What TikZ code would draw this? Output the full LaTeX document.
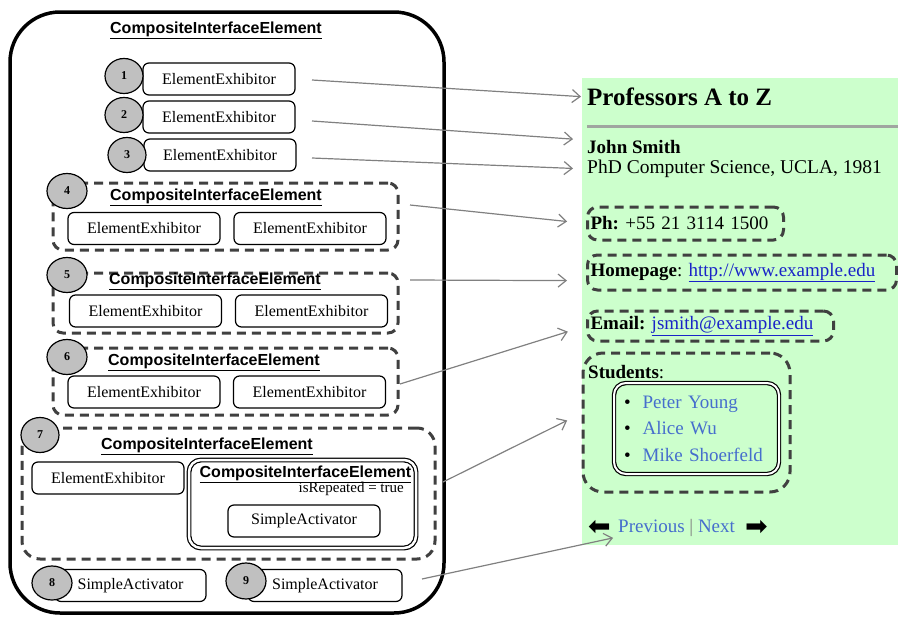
\documentclass[tikz,border=0pt]{standalone}
\usepackage{fontspec}
\setmainfont{Liberation Serif}
\setsansfont{Liberation Sans}
\newfontfamily\arrowfont{DejaVu Sans}
\usetikzlibrary{shapes.geometric,arrows.meta}
\definecolor{numgray}{RGB}{192,192,192}
\definecolor{dashgray}{RGB}{64,64,64}
\definecolor{pagegreen}{RGB}{204,255,204}
\definecolor{rulegray}{RGB}{160,165,160}
\definecolor{linkblue}{RGB}{25,35,200}
\definecolor{stublue}{RGB}{70,110,205}
\definecolor{wiregray}{RGB}{128,128,128}
\begin{document}
\frenchspacing
\begin{tikzpicture}[x=1pt,y=-1pt,
  exhib/.style={draw,rounded corners=6pt,line width=1.2pt,minimum width=152pt,minimum height=32pt,inner sep=0pt,font=\fontsize{16}{18}\selectfont},
  num/.style={draw,ellipse,fill=numgray,line width=1.2pt,minimum width=38pt,minimum height=35pt,inner sep=0pt,font=\fontsize{12}{14}\selectfont\bfseries},
  cie/.style={draw=dashgray,line width=3pt,dash pattern=on 9pt off 6pt,rounded corners=10pt,inner sep=0pt},
  ciename/.style={inner sep=0pt,font=\fontsize{16}{18}\selectfont\sffamily\bfseries},
  web/.style={anchor=west,inner sep=0pt,font=\fontsize{19}{22}\selectfont},
  navarrow/.style={web,font=\fontsize{27}{29}\selectfont\arrowfont},
  wire/.style={draw=wiregray,line width=1.2pt,-{Straight Barb[length=8pt,width=13pt]}}]
 	  \useasboundingbox (0,0) rectangle (898,619);
 	  \fill [pagegreen] (582,78) rectangle (898,545);
 	  \node (main) [draw,line width=3.5pt,rounded corners=50pt,minimum width=434pt,minimum height=601pt] at (227,312.5) {};
 	  \node (title) [ciename] at (216,30) {\underline{CompositeInterfaceElement}};
 	  \node (ee1) [exhib] at (219,79) {ElementExhibitor};
 	  \node (n1) [num] at (124,76) {1};
 	  \node (ee2) [exhib] at (219,117) {ElementExhibitor};
 	  \node (n2) [num] at (124,115) {2};
 	  \node (ee3) [exhib] at (220,155) {ElementExhibitor};
 	  \node (n3) [num] at (127,155) {3};
 	  \node (cie4) [cie,minimum width=345pt,minimum height=67pt] at (225.5,216.5) {};
 	  \node (n4) [num,minimum width=40pt] at (67,191) {4};
 	  \node (t4) [ciename] at (216,197) {\underline{CompositeInterfaceElement}};
 	  \node (ee4a) [exhib] at (144,228.5) {ElementExhibitor};
 	  \node (ee4b) [exhib] at (310,228.5) {ElementExhibitor};
 	  \node (cie5) [cie,minimum width=345pt,minimum height=60pt] at (225.5,303) {};
 	  \node (n5) [num,minimum width=40pt] at (67,275) {5};
 	  \node (t5) [ciename] at (215,281) {\underline{CompositeInterfaceElement}};
 	  \node (ee5a) [exhib] at (145.5,311) {ElementExhibitor};
 	  \node (ee5b) [exhib] at (311.5,311) {ElementExhibitor};
 	  \node (cie6) [cie,minimum width=345pt,minimum height=67pt] at (225.5,381.5) {};
 	  \node (n6) [num,minimum width=40pt] at (67,357) {6};
 	  \node (t6) [ciename] at (214,362) {\underline{CompositeInterfaceElement}};
 	  \node (ee6a) [exhib] at (144,392) {ElementExhibitor};
 	  \node (ee6b) [exhib] at (309.5,392) {ElementExhibitor};
 	  \node (cie7) [cie,rounded corners=18pt,minimum width=413pt,minimum height=131pt] at (228.5,493.5) {};
 	  \node (n7) [num] at (40,435) {7};
 	  \node (t7) [ciename] at (207,446) {\underline{CompositeInterfaceElement}};
 	  \node (ee7) [exhib] at (108,478) {ElementExhibitor};
 	  \node (inner) [draw,double,line width=1.2pt,double distance=2.5pt,rounded corners=12pt,minimum width=227pt,minimum height=88pt] at (302.5,504) {};
 	  \node (t7b) [ciename] at (305.5,474) {\underline{CompositeInterfaceElement}};
 	  \node (isrep) [anchor=east,inner sep=0pt,font=\fontsize{15}{17}\selectfont] at (404,489) {isRepeated = true};
 	  \node (sa7) [exhib] at (304,521) {SimpleActivator};
 	  \node (sa8) [exhib,minimum width=151pt] at (130.5,585.5) {SimpleActivator};
 	  \node (n8) [num,minimum width=40pt,minimum height=34pt] at (52,583) {8};
 	  \node (sa9) [exhib,minimum width=154pt] at (325,585.5) {SimpleActivator};
 	  \node (n9) [num,minimum width=40pt,minimum height=36pt] at (246,581) {9};
 	  \node (prof) [web,font=\fontsize{25}{28}\selectfont\bfseries] at (587,97) {Professors A to Z};
 	  \draw [rulegray,line width=3pt] (587,126) -- (898,126);
 	  \node (john) [web,font=\fontsize{19}{22}\selectfont\bfseries] at (587,147) {John Smith};
 	  \node (phd) [web,font=\fontsize{19.5}{22}\selectfont] at (587,169) {PhD Computer Science, UCLA, 1981};
 	  \node (ph) [web,cie,text width=190pt,inner xsep=3pt,minimum height=33pt,align=left] at (586,223.5) {\textbf{Ph:} +55 21 3114 1500};
 	  \node (hp) [web,cie,text width=303pt,inner xsep=3pt,minimum height=35pt,align=left] at (586,272.5) {\textbf{Homepage}: \textcolor{linkblue}{\underline{http://www.example.edu}}};
 	  \node (mail) [web,cie,text width=240pt,inner xsep=3pt,minimum height=30pt,align=left] at (586,326) {\textbf{Email:} \textcolor{linkblue}{\underline{jsmith@example.edu}}};
 	  \node (stud) [cie,rounded corners=20pt,minimum width=207pt,minimum height=139pt] at (686.5,422.5) {};
 	  \node (studlbl) [web] at (588,372) {\textbf{Students}:};
 	  \node (list) [draw,double,line width=1.2pt,double distance=2pt,rounded corners=12pt,text width=145pt,inner xsep=10pt,inner ysep=0pt,minimum height=91pt,align=left,font=\fontsize{19}{26.5}\selectfont] at (696.5,428.5) {\textbullet\hspace{12pt}\textcolor{stublue}{Peter Young}\\\textbullet\hspace{12pt}\textcolor{stublue}{Alice Wu}\\\textbullet\hspace{12pt}\textcolor{stublue}{Mike Shoerfeld}};
 	  \node (larr) [navarrow] at (588,528) {⬅};
 	  \node (prev) [web] at (618,528) {\textcolor{stublue}{Previous} \textcolor{gray}{|} \textcolor{stublue}{Next}};
 	  \node (rarr) [navarrow] at (745,528) {➡};
 	  \coordinate (w1) at (312,80);
 	  \coordinate (w2) at (312,121);
 	  \coordinate (w3) at (312,158);
 	  \coordinate (w4) at (410,205);
 	  \coordinate (w5) at (410,280);
 	  \coordinate (w6) at (400,384);
 	  \coordinate (w7) at (443,482);
 	  \coordinate (w9) at (422,579);
 	  \draw [wire,shorten >=6pt] (w1) -- (prof.west);
 	  \draw [wire,shorten >=14pt] (w2) -- (john.north west);
 	  \draw [wire,shorten >=14pt] (w3) -- (phd.west);
 	  \draw [wire,shorten >=19pt] (w4) -- (ph.west);
 	  \draw [wire,shorten >=19pt] (w5) -- (hp.183);
 	  \draw [wire,shorten >=19pt] (w6) -- (mail.west);
 	  \draw [wire,shorten >=16pt] (w7) -- (stud.175);
 	  \draw [wire,shorten >=5pt] (w9) -- (prev.south west);
 	\end{tikzpicture}
\end{document}
